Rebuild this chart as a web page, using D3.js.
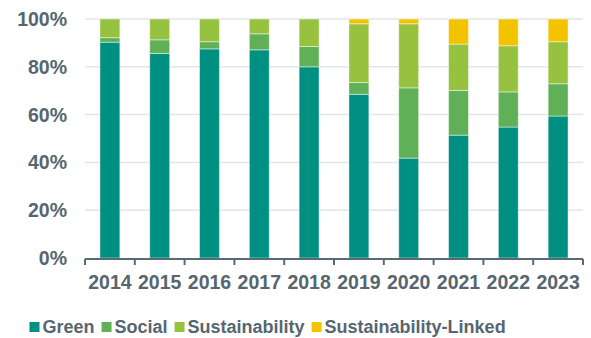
<!DOCTYPE html>
<html>
<head>
<meta charset="utf-8">
<script src="https://cdn.jsdelivr.net/npm/d3@7"></script>
<style>
  body { margin: 0; background: #fff; }
  svg { display: block; font-family: "Liberation Sans", Arial, sans-serif; }
  .lbl { fill: #566670; font-weight: bold; }
</style>
</head>
<body>
<svg id="chart" width="591" height="338"></svg>
<script>
// categories
const years = ["2014", "2015", "2016", "2017", "2018", "2019", "2020", "2021", "2022", "2023"];
// shares in % per year
const green = [90.3, 85.6, 87.5, 87.1, 80.0, 68.5, 41.8, 51.4, 54.8, 59.4];
const social = [1.9, 5.7, 3.0, 6.7, 8.5, 4.9, 29.4, 18.7, 14.7, 13.5];
const sustainability = [7.8, 8.7, 9.5, 6.2, 11.5, 24.6, 26.8, 19.4, 19.3, 17.6];
const sustainabilityLinked = [0, 0, 0, 0, 0, 2.0, 2.0, 10.5, 11.2, 9.5];
const yTicks = [0, 20, 40, 60, 80, 100];

const seriesNames = ["Green", "Social", "Sustainability", "Sustainability-Linked"];
const colors = ["#009082", "#5fb057", "#96c23f", "#f3c300"];

const rows = years.map((y, i) => ({
    year: y,
    "Green": green[i],
    "Social": social[i],
    "Sustainability": sustainability[i],
    "Sustainability-Linked": sustainabilityLinked[i]
}));

const margin = {left: 85, right: 8, top: 19, bottom: 80};
const width = 591 - margin.left - margin.right;
const height = 338 - margin.top - margin.bottom;

const svg = d3.select("#chart");
const paper = svg.append("g").attr("transform", `translate(${margin.left},${margin.top})`);

const x = d3.scaleBand().domain(years).range([0, width]).paddingInner(0.6).paddingOuter(0.3);
const y = d3.scaleLinear().domain([0, 100]).range([height, 0]);
const color = d3.scaleOrdinal().domain(seriesNames).range(colors);

// grid
paper.append("g")
    .selectAll("line")
    .data(yTicks.filter(t => t > 0))
    .join("line")
    .attr("x1", 0).attr("x2", width)
    .attr("y1", d => y(d)).attr("y2", d => y(d))
    .attr("stroke", "#e0e6e9")
    .attr("stroke-width", 1.5);

// y labels
paper.append("g")
    .selectAll("text")
    .data(yTicks)
    .join("text")
    .attr("class", "lbl")
    .attr("x", -18)
    .attr("y", d => y(d))
    .attr("dy", "0.36em")
    .attr("text-anchor", "end")
    .style("font-size", "19.5px")
    .text(d => d + "%");

// bars
const stacked = d3.stack().keys(seriesNames)(rows);
paper.append("g")
    .selectAll("g")
    .data(stacked)
    .join("g")
    .attr("fill", d => color(d.key))
    .selectAll("rect")
    .data(d => d)
    .join("rect")
    .attr("x", d => x(d.data.year))
    .attr("width", x.bandwidth())
    .attr("y", d => y(d[1]))
    .attr("height", d => y(d[0]) - y(d[1]))
    .attr("stroke", "rgba(255,255,255,0.45)")
    .attr("stroke-width", 1);

// x axis
const step = x.step();
const boundaries = d3.range(years.length + 1).map(i => i * step);
const axis = paper.append("g").attr("transform", `translate(0,${height + 1})`);
axis.append("line")
    .attr("x1", 0).attr("x2", width)
    .attr("stroke", "#5b6a72").attr("stroke-width", 2);
axis.selectAll(".tk")
    .data(boundaries)
    .join("line")
    .attr("class", "tk")
    .attr("x1", d => d).attr("x2", d => d)
    .attr("y1", 0).attr("y2", 6)
    .attr("stroke", "#5b6a72").attr("stroke-width", 2);
axis.selectAll("text")
    .data(years)
    .join("text")
    .attr("class", "lbl")
    .attr("x", d => x(d) + x.bandwidth() / 2)
    .attr("y", 29.5)
    .attr("text-anchor", "middle")
    .style("font-size", "19.5px")
    .text(d => d);

// legend
const legend = svg.append("g").attr("transform", "translate(29.5,333)");
let lx = 0;
seriesNames.forEach(name => {
    const g = legend.append("g").attr("transform", `translate(${lx},0)`);
    g.append("rect")
        .attr("x", 0).attr("y", -11)
        .attr("width", 10).attr("height", 10)
        .attr("fill", color(name));
    const t = g.append("text")
        .attr("class", "lbl")
        .attr("x", 13)
        .attr("y", 0)
        .style("font-size", "18px")
        .text(name);
    lx += 13 + t.node().getComputedTextLength() + 7;
});
</script>
</body>
</html>
